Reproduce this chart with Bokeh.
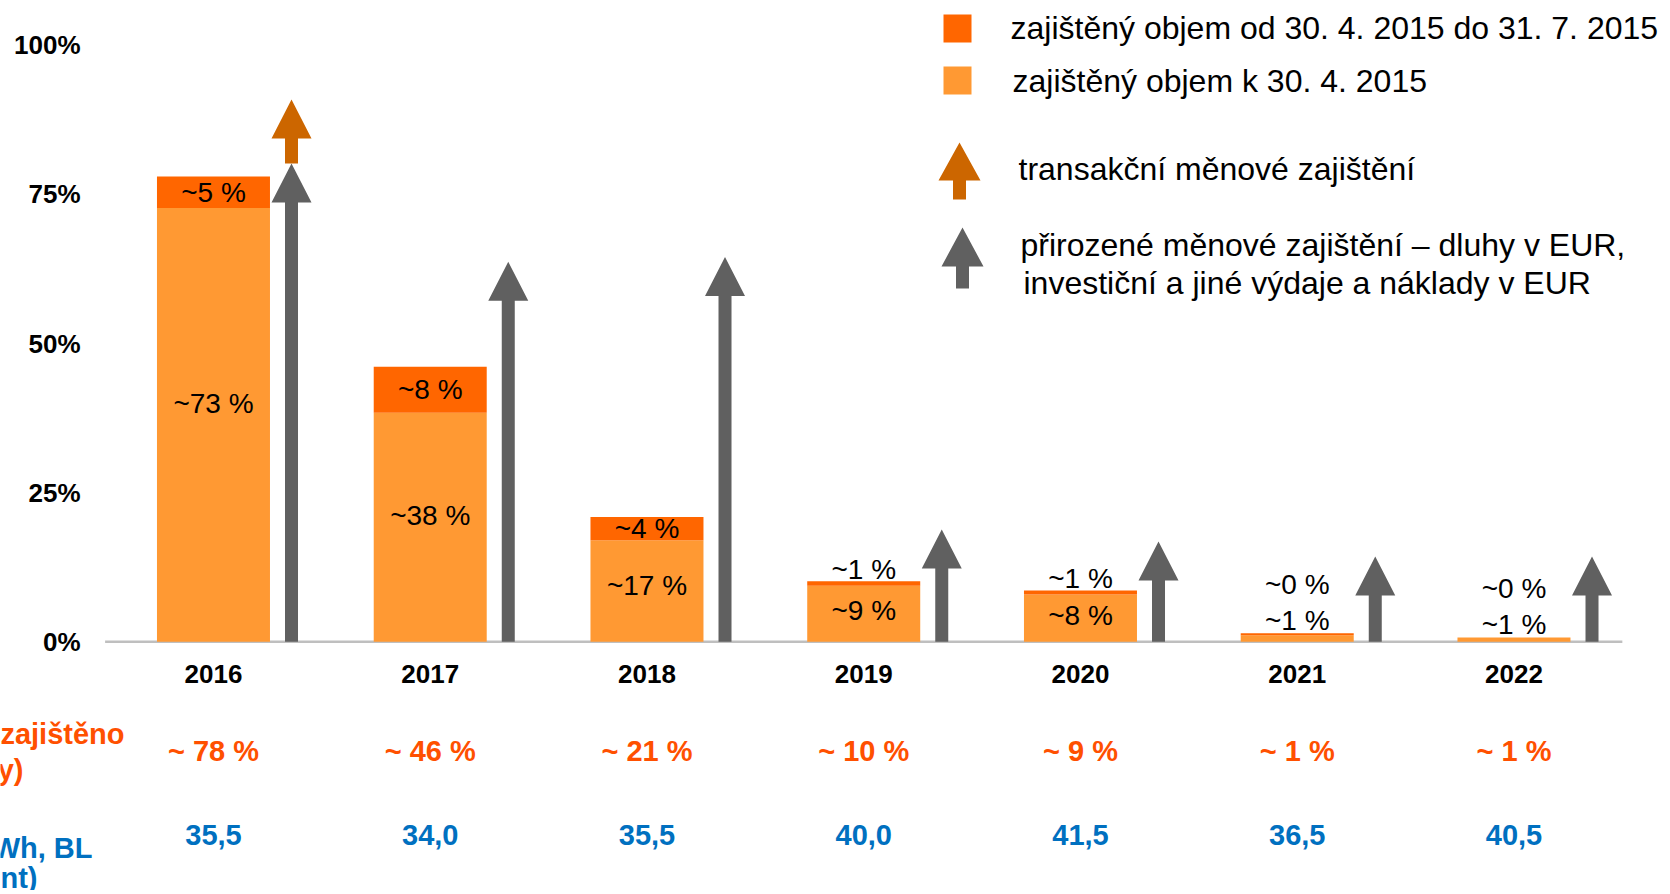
from bokeh.plotting import figure
from bokeh.models import Range1d
from bokeh.embed import file_html
from bokeh.resources import INLINE
from bokeh.core.properties import value

# ---------------- data ----------------
years = ["2016", "2017", "2018", "2019", "2020", "2021", "2022"]
hedged_base = [72.7, 38.4, 17.0, 9.4, 7.9, 1.1, 0.7]        # zajištěný objem k 30. 4. 2015
hedged_added = [5.3, 7.7, 3.9, 0.75, 0.7, 0.3, 0.0]       # od 30. 4. 2015 do 31. 7. 2015
base_labels = ["~73 %", "~38 %", "~17 %", "~9 %", "~8 %", "~1 %", "~1 %"]
added_labels = ["~5 %", "~8 %", "~4 %", "~1 %", "~1 %", "~0 %", "~0 %"]
total_labels = ["~ 78 %", "~ 46 %", "~ 21 %", "~ 10 %", "~ 9 %", "~ 1 %", "~ 1 %"]
price_labels = ["35,5", "34,0", "35,5", "40,0", "41,5", "36,5", "40,5"]
natural_hedge_tip = [80.2, 63.7, 64.5, 18.8, 16.8, 14.3, 14.3]
transaction_hedge_tip = [90.9, None, None, None, None, None, None]
y_ticks = [0, 25, 50, 75, 100]
y_tick_labels = ["0%", "25%", "50%", "75%", "100%"]
legend_labels = ["zajištěný objem od 30. 4. 2015 do 31. 7. 2015",
                 "zajištěný objem k 30. 4. 2015",
                 "transakční měnové zajištění",
                 "přirozené měnové zajištění – dluhy v EUR,",
                 " investiční a jiné výdaje a náklady v EUR"]
row_title_total = ["zajištěno", "y)"]
row_title_price = ["Wh, BL", "nt)"]

# ---------------- layout (pixels) ----------------
W, H = 1666, 890
X0 = 104.6     # px of x = 0
CAT = 216.75   # px per category
Y0 = 641.2     # px (from top) of y = 0
UNIT = 5.964   # px per percent

def dx(px):
    return (px - X0) / CAT

def dy(py):
    return (Y0 - py) / UNIT

def wx(px):
    return px / CAT

def hy(px):
    return px / UNIT

FONT = value("Liberation Sans")
C_LIGHT = "#ff9933"
C_DARK = "#ff6600"
C_ARROW_OR = "#cc6600"
C_ARROW_GR = "#606060"
C_TOTAL = "#ff5000"
C_PRICE = "#0070c0"

p = figure(width=W, height=H, x_range=Range1d(dx(0), dx(W)), y_range=Range1d(dy(H), dy(0)),
           output_backend="svg", toolbar_location=None, x_axis_location=None,
           y_axis_location=None, min_border=0, outline_line_color=None)
p.grid.visible = False

n = len(years)
xs = [i + 0.5 for i in range(n)]
totals = [b + a for b, a in zip(hedged_base, hedged_added)]

# baseline
p.segment(x0=[0], y0=[0], x1=[n], y1=[0], line_color="#bfbfbf", line_width=2.5)

# bars
bw = wx(113)
p.vbar(x=xs, bottom=0, top=hedged_base, width=bw, fill_color=C_LIGHT, line_color=None)
p.vbar(x=xs, bottom=hedged_base, top=totals, width=bw, fill_color=C_DARK, line_color=None)


def arrow(xc, y0, y1, head_h_px=39, head_w_px=40, shaft_w_px=13):
    hh = wx(head_w_px) / 2
    hs = wx(shaft_w_px) / 2
    hb = y1 - hy(head_h_px)
    return ([xc - hs, xc + hs, xc + hs, xc + hh, xc, xc - hh, xc - hs],
            [y0, y0, hb, hb, y1, hb, hb])

ARROW_DX = 0.36
gx, gy = [], []
ox, oy = [], []
for i in range(n):
    ax, ay = arrow(xs[i] + ARROW_DX, 0, natural_hedge_tip[i])
    gx.append(ax); gy.append(ay)
    if transaction_hedge_tip[i] is not None:
        bx, by = arrow(xs[i] + ARROW_DX, natural_hedge_tip[i], transaction_hedge_tip[i])
        ox.append(bx); oy.append(by)
p.patches(gx, gy, fill_color=C_ARROW_GR, line_color=None)
p.patches(ox, oy, fill_color=C_ARROW_OR, line_color=None)

# bar labels
bl_y, al_y = [], []
for b, a, t in zip(hedged_base, hedged_added, totals):
    if b >= 5:
        yb = b * 0.55
    else:
        yb = t + hy(13)
    if a >= 3:
        ya = b + a / 2
    elif b >= 5:
        ya = t + hy(12)
    else:
        ya = yb + hy(36)
    bl_y.append(yb)
    al_y.append(ya)

p.text(x=xs, y=bl_y, text=base_labels, text_font=FONT, text_font_size="28px",
       text_align="center", text_baseline="middle", text_color="#000000")
p.text(x=xs, y=al_y, text=added_labels, text_font=FONT, text_font_size="28px",
       text_align="center", text_baseline="middle", text_color="#000000")

# y tick labels
p.text(x=[dx(80)] * len(y_ticks), y=y_ticks, text=y_tick_labels, text_font=FONT,
       text_font_size="26px", text_font_style="bold", text_align="right",
       text_baseline="middle", text_color="#000000")

# x labels and extra rows
p.text(x=xs, y=[dy(673)] * n, text=years, text_font=FONT, text_font_size="26px",
       text_font_style="bold", text_align="center", text_baseline="middle", text_color="#000000")
p.text(x=xs, y=[dy(750)] * n, text=total_labels, text_font=FONT, text_font_size="29px",
       text_font_style="bold", text_align="center", text_baseline="middle", text_color=C_TOTAL)
p.text(x=xs, y=[dy(834)] * n, text=price_labels, text_font=FONT, text_font_size="29px",
       text_font_style="bold", text_align="center", text_baseline="middle", text_color=C_PRICE)

# row titles (cut at left edge, as in the source)
p.text(x=[dx(124), dx(23)], y=[dy(733), dy(769)], text=row_title_total, text_font=FONT,
       text_font_size="29px", text_font_style="bold", text_align="right",
       text_baseline="middle", text_color=C_TOTAL)
p.text(x=[dx(92), dx(37)], y=[dy(847), dy(877)], text=row_title_price, text_font=FONT,
       text_font_size="29px", text_font_style="bold", text_align="right",
       text_baseline="middle", text_color=C_PRICE)

# legend
p.scatter(x=[dx(957), dx(957)], y=[dy(28), dy(80)], marker="square", size=28,
          fill_color=[C_DARK, C_LIGHT], line_color=None)
lax, lay = arrow(dx(959), dy(199), dy(142), head_h_px=38, head_w_px=42, shaft_w_px=13)
gax, gay = arrow(dx(962), dy(288), dy(227), head_h_px=39, head_w_px=42, shaft_w_px=13)
p.patches([lax], [lay], fill_color=C_ARROW_OR, line_color=None)
p.patches([gax], [gay], fill_color=C_ARROW_GR, line_color=None)
p.text(x=[dx(1010), dx(1012), dx(1018), dx(1020), dx(1023)],
       y=[dy(27), dy(80), dy(168), dy(244), dy(282)],
       text=legend_labels, text_font=FONT, text_font_size="32px",
       text_align="left", text_baseline="middle", text_color="#000000")

open("out.html", "w").write(file_html(p, INLINE))
